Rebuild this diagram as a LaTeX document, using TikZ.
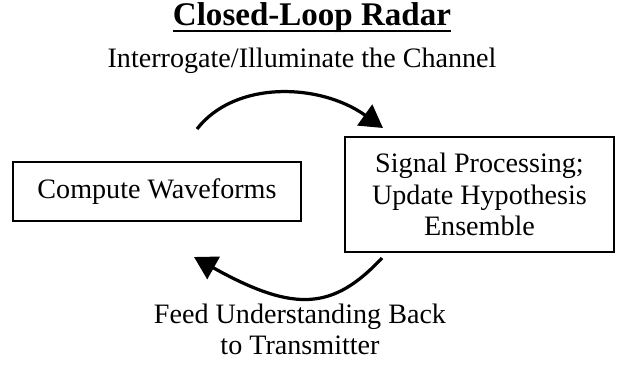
\documentclass[tikz,border=0pt]{standalone}
\usepackage{fontspec}
\setmainfont{Liberation Serif}
\usetikzlibrary{arrows.meta}

\tikzset{
  stage/.style={draw, line width=1.4pt, inner sep=0pt, align=center,
    font=\fontsize{20}{22.5}\selectfont},
  caption/.style={inner sep=0pt, align=center, font=\fontsize{20}{21.5}\selectfont},
  loop/.style={line width=2.3pt, -{Triangle[length=16pt, width=18pt]}}
}

\begin{document}
\begin{tikzpicture}[x=0.25mm, y=0.25mm]
  %%%%% START %%%%%
  \useasboundingbox (0, 0) rectangle (618, 365);

  % heading, underlined by hand
  \node[inner sep=0pt, anchor=base, font=\fontsize{23.5}{28}\selectfont\bfseries] (title) at (312, 340) {Closed-Loop Radar};
  \draw[line width=1.8pt] ([yshift=-4.3pt]title.base west) -- ([yshift=-4.3pt]title.base east);

  % the two stages
  \node[stage, minimum width=204.9pt, minimum height=42pt] (waveforms) at (157, 173.5) {Compute Waveforms};
  \node[stage, minimum width=191.3pt, minimum height=81.8pt] (processing) at (479.5, 170.5) {Signal Processing;\\ Update Hypothesis\\ Ensemble};

  % transmit arc
  \node[caption, anchor=base] (illuminate) at (302, 298) {Interrogate/Illuminate the Channel};
  \coordinate (txstart) at (197, 236);
  \coordinate (txend) at (383, 237);
  \draw[loop] (txstart) .. controls (235, 285) and (320, 282) .. (txend);

  % feedback arc
  \coordinate (fbstart) at (382, 107);
  \coordinate (fbend) at (194, 108);
  \draw[loop] (fbstart) .. controls (334, 56) and (296, 51) .. (fbend);
  \node[caption, anchor=north] (feedback) at (300, 61) {Feed Understanding Back\\ to Transmitter};

  %%%%% END %%%%%
\end{tikzpicture}
\end{document}
